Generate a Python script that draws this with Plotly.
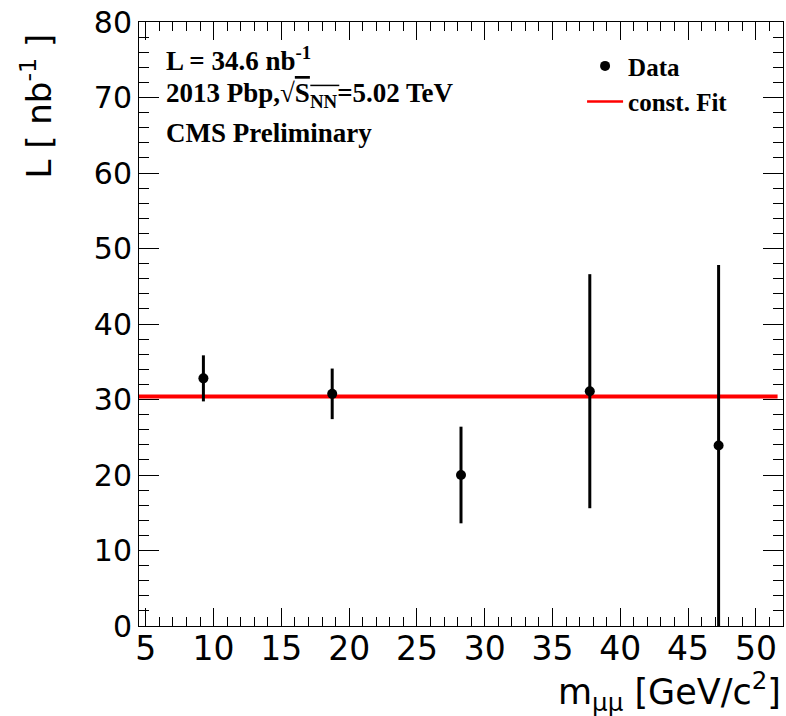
import plotly.graph_objects as go

# Luminosity per dimuon mass bin (2013 pPb run)
mass_centers = [9.25, 18.75, 28.25, 37.75, 47.25]
lumi_values = [32.8, 30.75, 20.0, 31.1, 23.9]
lumi_errors = [3.05, 3.35, 6.4, 15.5, 23.9]

# Constant fit to the points
fit_value = 30.4
fit_range = [4.5, 51.6]

x_range = [4.5, 52.0]
y_range = [0, 80]

sans = "DejaVu Sans"
serif = "Liberation Serif"

fig = go.Figure()

fig.add_trace(go.Scatter(
    x=fit_range, y=[fit_value, fit_value], mode="lines",
    line=dict(color="#ff0000", width=4), showlegend=False,
    hoverinfo="skip",
))

fig.add_trace(go.Scatter(
    x=mass_centers, y=lumi_values, mode="markers", name="Data",
    marker=dict(color="black", size=10, symbol="circle"),
    error_y=dict(type="data", array=lumi_errors, visible=True,
                 color="black", thickness=3, width=0),
    cliponaxis=True,
))

# legend entry for the fit, drawn with a thinner stroke
fig.add_trace(go.Scatter(
    x=[None], y=[None], mode="lines", name="const. Fit",
    line=dict(color="#ff0000", width=2.5),
))

axis_common = dict(
    showline=True, linecolor="black", linewidth=1, mirror="ticks",
    ticks="inside", tickcolor="black", tickwidth=1,
    showgrid=False, zeroline=False,
)

fig.update_xaxes(
    range=x_range, tick0=5, dtick=5, ticklen=18,
    minor=dict(ticks="inside", dtick=1, ticklen=9, tickcolor="black", tickwidth=1),
    tickfont=dict(family=sans, size=33, color="black"),
    ticklabelstandoff=-7,
    **axis_common,
)
fig.update_yaxes(
    range=y_range, tick0=0, dtick=10, ticklen=20,
    minor=dict(ticks="inside", dtick=2, ticklen=10, tickcolor="black", tickwidth=1),
    tickfont=dict(family=sans, size=30, color="black"),
    **axis_common,
)

fig.add_annotation(
    text="m<sub>μμ</sub> [GeV/c<sup>2</sup>]", xref="paper", yref="paper",
    x=1.0, y=-0.108, xanchor="right", yanchor="middle", showarrow=False,
    font=dict(family=sans, size=35, color="black"),
)
fig.add_annotation(
    text="L [ nb<sup>-1</sup> ]", xref="paper", yref="paper",
    x=-0.16, y=0.985, xanchor="center", yanchor="top", textangle=-90,
    showarrow=False, font=dict(family=sans, size=34, color="black"),
)

info_lines = [
    ("L = 34.6 nb<sup>-1</sup>", 0.939),
    ("2013 Pbp,√<span style='text-decoration:overline'>S</span><sub>NN</sub>=5.02 TeV", 0.879),
    ("CMS Preliminary", 0.816),
]
for text, ypos in info_lines:
    fig.add_annotation(
        text=text, xref="paper", yref="paper", x=0.039, y=ypos,
        xanchor="left", yanchor="middle", showarrow=False,
        font=dict(family=serif, size=27, color="black", weight="bold"),
    )

# root-sign bar continued over the NN subscript
fig.add_shape(
    type="line", xref="paper", yref="paper",
    x0=0.266, x1=0.311, y0=0.895, y1=0.895,
    line=dict(color="black", width=1.5),
)

fig.update_layout(
    width=786, height=716,
    margin=dict(l=139, r=3, t=22, b=90),
    paper_bgcolor="white", plot_bgcolor="white",
    legend=dict(
        x=0.688, y=0.965, xanchor="left", yanchor="top",
        bgcolor="rgba(0,0,0,0)", borderwidth=0,
        font=dict(family=serif, size=25, color="black", weight="bold"),
        itemwidth=36, tracegroupgap=0,
    ),
)

fig.write_html("out.html")
